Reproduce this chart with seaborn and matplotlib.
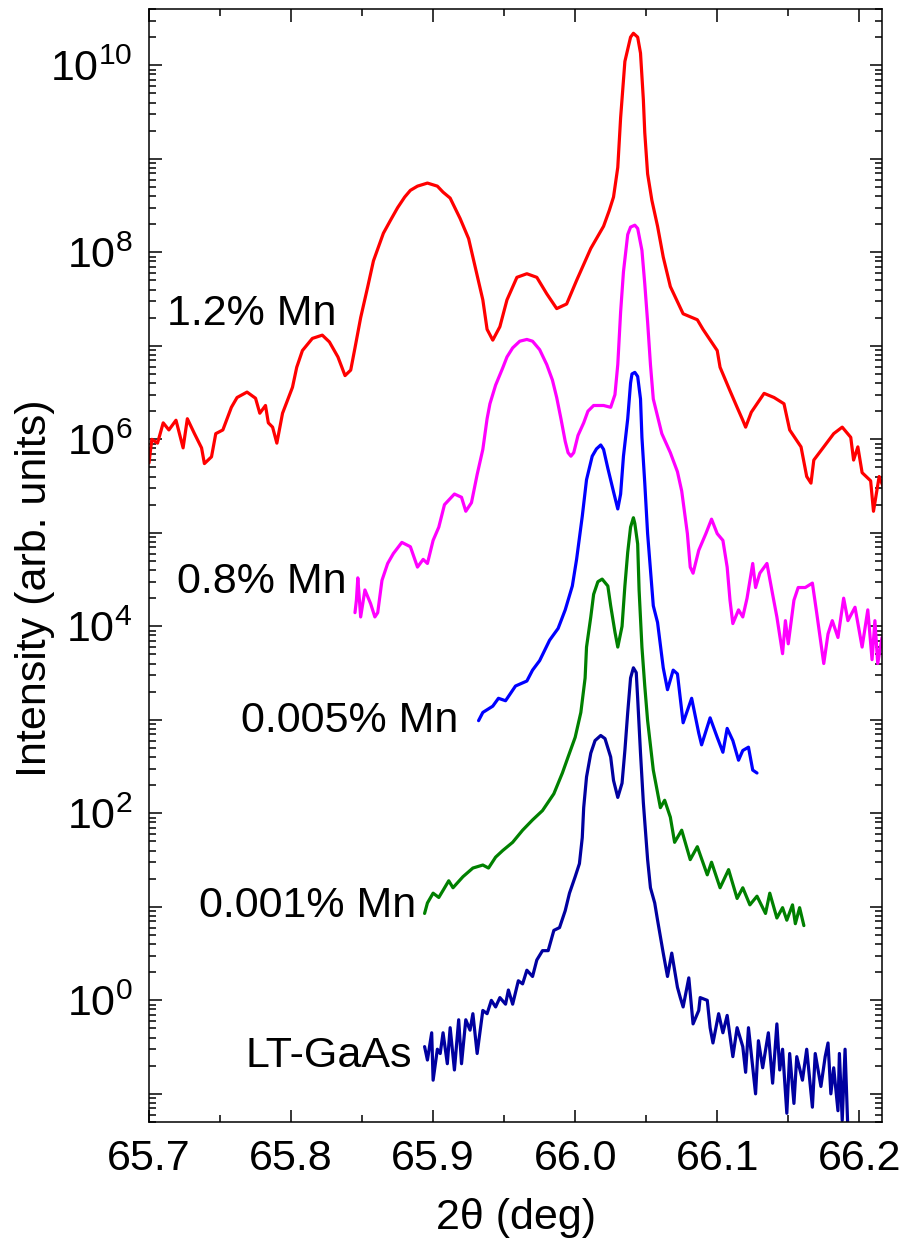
import numpy as np
import pandas as pd
import matplotlib
matplotlib.use("Agg")
import matplotlib.pyplot as plt
import matplotlib.ticker as mticker
import seaborn as sns

# ---- data (2theta in deg, intensity in arb. units) ----
red_x = [65.700, 65.702, 65.706, 65.710, 65.714, 65.719, 65.724, 65.727, 65.732, 65.737,
         65.739, 65.744, 65.747, 65.752, 65.758, 65.762, 65.769, 65.775, 65.778, 65.782,
         65.784, 65.787, 65.790, 65.794, 65.801, 65.804, 65.808, 65.815, 65.822, 65.827,
         65.833, 65.838, 65.842, 65.845, 65.849, 65.854, 65.858, 65.865, 65.870, 65.875,
         65.880, 65.884, 65.889, 65.896, 65.903, 65.907, 65.912, 65.919, 65.925, 65.928,
         65.935, 65.938, 65.942, 65.947, 65.952, 65.959, 65.966, 65.973, 65.980, 65.987,
         65.994, 66.001, 66.011, 66.020, 66.024, 66.027, 66.030, 66.032, 66.035, 66.039,
         66.041, 66.044, 66.046, 66.048, 66.049, 66.051, 66.054, 66.058, 66.062, 66.067,
         66.076, 66.086, 66.090, 66.100, 66.102, 66.109, 66.114, 66.118, 66.120, 66.124,
         66.133, 66.140, 66.147, 66.151, 66.159, 66.163, 66.166, 66.168, 66.175, 66.182,
         66.188, 66.194, 66.196, 66.199, 66.202, 66.208, 66.210, 66.214, 66.218]
red_y = [5.6e5, 1.0e6, 9.1e5, 1.5e6, 1.26e6, 1.6e6, 8.1e5, 1.66e6, 1.15e6, 8.1e5,
         5.5e5, 6.5e5, 1.15e6, 1.26e6, 2.2e6, 2.8e6, 3.2e6, 2.75e6, 1.9e6, 2.3e6,
         1.5e6, 1.35e6, 9.1e5, 1.9e6, 3.6e6, 5.9e6, 8.9e6, 1.2e7, 1.3e7, 1.1e7,
         7.6e6, 4.8e6, 5.5e6, 9.5e6, 2.0e7, 4.3e7, 8.1e7, 1.6e8, 2.2e8, 3.0e8,
         3.9e8, 4.6e8, 5.1e8, 5.5e8, 5.1e8, 4.4e8, 3.8e8, 2.3e8, 1.4e8, 8.9e7,
         3.1e7, 1.5e7, 1.15e7, 1.6e7, 3.1e7, 5.4e7, 5.9e7, 5.4e7, 3.6e7, 2.5e7,
         2.8e7, 5.0e7, 1.1e8, 1.9e8, 2.8e8, 3.9e8, 8.1e8, 2.75e9, 1.1e10, 2.0e10,
         2.2e10, 2.0e10, 1.35e10, 4.3e9, 1.9e9, 6.9e8, 3.6e8, 1.9e8, 8.9e7, 4.3e7,
         2.2e7, 1.9e7, 1.5e7, 8.9e6, 5.9e6, 3.3e6, 2.2e6, 1.6e6, 1.35e6, 1.95e6,
         3.1e6, 2.8e6, 2.4e6, 1.26e6, 8.3e5, 4.0e5, 3.4e5, 6.0e5, 8.3e5, 1.15e6,
         1.35e6, 1.05e6, 6.0e5, 8.3e5, 4.4e5, 3.6e5, 1.7e5, 4.0e5, 2.8e5]

magenta_x = [65.845, 65.846, 65.847, 65.849, 65.852, 65.856, 65.859, 65.861, 65.864, 65.868,
             65.872, 65.878, 65.884, 65.889, 65.893, 65.896, 65.900, 65.904, 65.908, 65.915,
             65.920, 65.923, 65.927, 65.931, 65.935, 65.938, 65.940, 65.944, 65.949, 65.952,
             65.956, 65.961, 65.966, 65.970, 65.975, 65.980, 65.984, 65.987, 65.990, 65.993,
             65.995, 65.997, 65.999, 66.002, 66.006, 66.009, 66.013, 66.020, 66.025, 66.028,
             66.030, 66.032, 66.034, 66.037, 66.039, 66.042, 66.044, 66.047, 66.049, 66.051,
             66.053, 66.055, 66.061, 66.067, 66.072, 66.075, 66.079, 66.081, 66.083, 66.087,
             66.092, 66.096, 66.100, 66.104, 66.107, 66.109, 66.111, 66.115, 66.118, 66.121,
             66.125, 66.127, 66.130, 66.135, 66.139, 66.142, 66.146, 66.148, 66.150, 66.154,
             66.157, 66.162, 66.167, 66.170, 66.175, 66.178, 66.181, 66.185, 66.189, 66.192,
             66.197, 66.202, 66.206, 66.209, 66.211, 66.213, 66.216]
magenta_y = [1.4e4, 1.9e4, 3.3e4, 1.26e4, 2.45e4, 1.75e4, 1.26e4, 1.4e4, 3.1e4, 4.7e4,
             6.0e4, 7.9e4, 7.1e4, 4.3e4, 5.2e4, 4.7e4, 8.3e4, 1.15e5, 2.0e5, 2.6e5,
             2.4e5, 1.7e5, 2.1e5, 4.2e5, 7.8e5, 1.66e6, 2.4e6, 3.8e6, 5.8e6, 7.6e6,
             9.5e6, 1.12e7, 1.17e7, 1.12e7, 9.1e6, 6.3e6, 4.3e6, 2.8e6, 1.66e6, 9.5e5,
             7.2e5, 6.6e5, 7.2e5, 1.1e6, 1.5e6, 2.0e6, 2.3e6, 2.3e6, 2.2e6, 3.0e6,
             6.3e6, 2.3e7, 6.2e7, 1.55e8, 1.86e8, 1.95e8, 1.8e8, 1.05e8, 4.6e7, 1.8e7,
             6.3e6, 2.7e6, 1.15e6, 7.2e5, 4.5e5, 2.8e5, 9.8e4, 4.3e4, 3.7e4, 6.5e4,
             9.8e4, 1.4e5, 9.8e4, 8.3e4, 4.3e4, 1.9e4, 1.07e4, 1.5e4, 1.26e4, 2.0e4,
             4.7e4, 2.6e4, 3.7e4, 4.7e4, 2.2e4, 1.26e4, 5.1e3, 1.15e4, 6.5e3, 1.9e4,
             2.6e4, 2.6e4, 2.9e4, 1.4e4, 4.0e3, 8.3e3, 1.15e4, 7.6e3, 2.0e4, 1.15e4,
             1.6e4, 6.0e3, 1.5e4, 4.4e3, 1.15e4, 4.0e3, 7.6e3]

blue_x = [65.932, 65.935, 65.942, 65.946, 65.951, 65.958, 65.966, 65.970, 65.975, 65.982,
          65.988, 65.993, 65.998, 66.001, 66.005, 66.008, 66.012, 66.015, 66.018, 66.020,
          66.023, 66.027, 66.030, 66.032, 66.034, 66.037, 66.039, 66.040, 66.042, 66.044,
          66.046, 66.047, 66.049, 66.051, 66.055, 66.058, 66.062, 66.065, 66.069, 66.072,
          66.076, 66.082, 66.087, 66.089, 66.095, 66.100, 66.104, 66.107, 66.111, 66.115,
          66.118, 66.122, 66.125, 66.128]
blue_y = [9.8e2, 1.2e3, 1.4e3, 1.7e3, 1.6e3, 2.3e3, 2.6e3, 3.4e3, 4.3e3, 7.1e3,
          9.5e3, 1.5e4, 2.7e4, 5.2e4, 1.5e5, 3.7e5, 6.6e5, 7.9e5, 8.7e5, 7.8e5,
          4.9e5, 2.75e5, 1.8e5, 2.6e5, 6.6e5, 1.66e6, 4.0e6, 5.0e6, 5.2e6, 4.7e6,
          2.7e6, 1.05e6, 3.4e5, 9.8e4, 1.66e4, 1.1e4, 3.6e3, 2.1e3, 3.4e3, 3.1e3,
          9.3e2, 1.7e3, 7.2e2, 5.4e2, 1.05e3, 6.5e2, 4.5e2, 8.1e2, 6.0e2, 3.7e2,
          4.7e2, 5.1e2, 2.9e2, 2.7e2]

green_x = [65.894, 65.896, 65.900, 65.904, 65.907, 65.911, 65.914, 65.921, 65.928, 65.935,
           65.939, 65.944, 65.949, 65.956, 65.963, 65.970, 65.977, 65.985, 65.991, 65.995,
           66.000, 66.004, 66.007, 66.008, 66.011, 66.013, 66.016, 66.019, 66.023, 66.025,
           66.028, 66.030, 66.033, 66.035, 66.037, 66.039, 66.041, 66.042, 66.044, 66.045,
           66.047, 66.049, 66.051, 66.055, 66.060, 66.063, 66.067, 66.070, 66.075, 66.081,
           66.086, 66.093, 66.096, 66.102, 66.108, 66.114, 66.118, 66.123, 66.128, 66.134,
           66.137, 66.142, 66.146, 66.149, 66.153, 66.155, 66.158, 66.161]
green_y = [8.5, 11, 14, 12.6, 15, 19, 16, 21, 26, 28,
           26, 34, 40, 49, 66, 85, 107, 162, 270, 400,
           650, 1.2e3, 2.8e3, 6.0e3, 1.26e4, 2.2e4, 3.0e4, 3.2e4, 2.7e4, 1.66e4,
           8.7e3, 6.0e3, 1.0e4, 2.7e4, 6.2e4, 1.15e5, 1.45e5, 1.26e5, 7.6e4, 2.45e4,
           6.0e3, 2.3e3, 9.8e2, 290, 115, 138, 91, 49, 66, 32,
           44, 22, 30, 16, 25, 12.3, 16, 10.5, 13, 8.5,
           14, 7.6, 9.8, 7.2, 10.5, 6.6, 9.8, 6.3]

navy_x = [65.894, 65.896, 65.899, 65.900, 65.903, 65.905, 65.907, 65.910, 65.912, 65.915,
          65.918, 65.920, 65.923, 65.926, 65.928, 65.931, 65.935, 65.938, 65.941, 65.944,
          65.947, 65.951, 65.953, 65.956, 65.960, 65.963, 65.966, 65.970, 65.973, 65.977,
          65.981, 65.985, 65.989, 65.993, 65.996, 66.000, 66.003, 66.005, 66.006, 66.008,
          66.011, 66.014, 66.018, 66.021, 66.025, 66.027, 66.030, 66.033, 66.035, 66.037,
          66.039, 66.041, 66.043, 66.044, 66.046, 66.048, 66.051, 66.053, 66.056, 66.058,
          66.062, 66.065, 66.068, 66.072, 66.074, 66.076, 66.080, 66.083, 66.087, 66.088,
          66.093, 66.095, 66.097, 66.101, 66.104, 66.107, 66.111, 66.114, 66.118, 66.120,
          66.122, 66.127, 66.129, 66.132, 66.136, 66.139, 66.142, 66.144, 66.146, 66.149,
          66.151, 66.154, 66.156, 66.160, 66.163, 66.167, 66.169, 66.173, 66.176, 66.178,
          66.180, 66.182, 66.185, 66.186, 66.188, 66.190, 66.192]
navy_y = [0.32, 0.23, 0.45, 0.14, 0.30, 0.27, 0.45, 0.21, 0.51, 0.18,
          0.62, 0.21, 0.62, 0.48, 0.72, 0.27, 0.78, 0.72, 1.0, 0.85,
          1.07, 0.91, 1.29, 0.91, 1.62, 1.5, 2.1, 1.8, 2.7, 3.4,
          3.4, 5.6, 6.0, 9.1, 14, 21, 29, 55, 115, 245,
          440, 600, 680, 630, 400, 225, 148, 210, 470, 1.2e3,
          2.8e3, 3.6e3, 3.2e3, 1.7e3, 440, 130, 32, 16, 11, 7.2,
          3.2, 1.8, 3.2, 1.38, 1.07, 0.85, 1.74, 0.56, 0.78, 1.07,
          1.0, 0.51, 0.35, 0.72, 0.45, 0.69, 0.25, 0.51, 0.32, 0.17,
          0.51, 0.10, 0.37, 0.19, 0.45, 0.13, 0.56, 0.18, 0.30, 0.062,
          0.27, 0.079, 0.25, 0.14, 0.30, 0.072, 0.27, 0.12, 0.25, 0.35,
          0.10, 0.19, 0.066, 0.27, 0.052, 0.30, 0.040]

series_names = ["1.2% Mn", "0.8% Mn", "0.005% Mn", "0.001% Mn", "LT-GaAs"]
series_colors = ["#ff0000", "#ff00ff", "#0000ff", "#008000", "#0000a0"]
series_data = [(red_x, red_y), (magenta_x, magenta_y), (blue_x, blue_y),
               (green_x, green_y), (navy_x, navy_y)]

# label anchor (right edge, baseline) of each curve name
label_x = [65.832, 65.839, 65.918, 65.888, 65.885]
label_y = [1.65e7, 2.3e4, 740, 7.7, 0.195]

x_ticks = [65.7, 65.8, 65.9, 66.0, 66.1, 66.2]
y_decades = list(range(-1, 11))
y_tick_labels = ["", r"$10^{0}$", "", r"$10^{2}$", "", r"$10^{4}$", "",
                 r"$10^{6}$", "", r"$10^{8}$", "", r"$10^{10}$"]

# ---- style ----
sns.set_style("ticks", rc={"axes.edgecolor": "black", "text.color": "black",
                           "axes.labelcolor": "black", "xtick.color": "black",
                           "ytick.color": "black"})
plt.rcParams['font.family'] = ['Liberation Sans', 'DejaVu Sans']
plt.rcParams['mathtext.fontset'] = 'custom'
plt.rcParams['mathtext.rm'] = 'Liberation Sans'
plt.rcParams['mathtext.it'] = 'Liberation Sans:italic'
plt.rcParams['axes.linewidth'] = 1.1

fig = plt.figure(figsize=(9.02, 12.53), dpi=100)
ax = fig.add_axes([149 / 902, 1 - 1122 / 1253, 733 / 902, 1113 / 1253])

frames = []
for name, (xs, ys) in zip(series_names, series_data):
    frames.append(pd.DataFrame({"two_theta": xs, "intensity": ys, "sample": name}))
df = pd.concat(frames, ignore_index=True)

for name, color in zip(series_names, series_colors):
    sub = df[df["sample"] == name]
    sns.lineplot(data=sub, x="two_theta", y="intensity", color=color, lw=2.3,
                 estimator=None, sort=False, ax=ax, legend=False)

ax.set_yscale("log")
ax.set_xlim(65.7, 66.216)
ax.set_ylim(0.05, 4e10)

for name, lx, ly in zip(series_names, label_x, label_y):
    ax.text(lx, ly, name, ha="right", va="baseline", fontsize=31, color="black")

ax.set_xticks(x_ticks)
ax.set_xticklabels([f"{t:.1f}" for t in x_ticks])
ax.xaxis.set_minor_locator(mticker.MultipleLocator(0.05))
ax.set_yticks([10.0 ** k for k in y_decades])
ax.set_yticklabels(y_tick_labels)
ax.yaxis.set_minor_locator(mticker.LogLocator(base=10, subs=np.arange(2, 10), numticks=40))
ax.yaxis.set_minor_formatter(mticker.NullFormatter())

ax.tick_params(which="both", direction="in", top=True, right=True, width=1.1,
               labelsize=31, colors="black")
ax.tick_params(which="major", length=9, pad=12)
ax.tick_params(which="minor", length=5)

ax.set_xlabel("2\u03b8 (deg)", fontsize=31, labelpad=14)
ax.set_ylabel("Intensity (arb. units)", fontsize=31)
ax.yaxis.set_label_coords(-0.128, 0.48)

fig.savefig("out.png", dpi=100)
